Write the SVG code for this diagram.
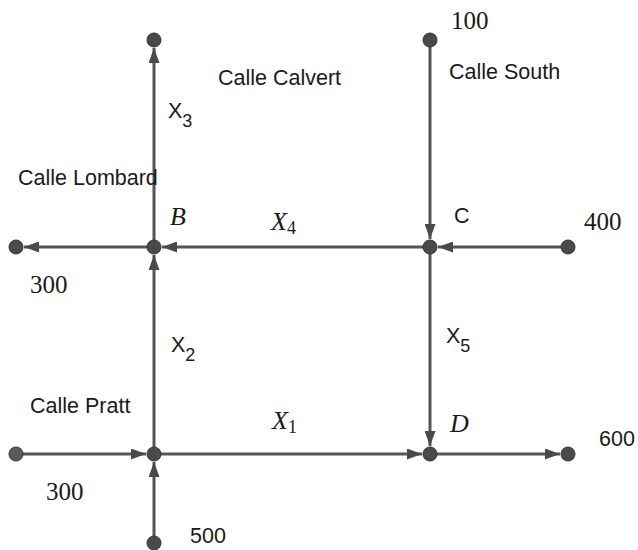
<svg xmlns="http://www.w3.org/2000/svg" width="638" height="550" viewBox="0 0 638 550">
<style>
.e{stroke:#555;stroke-width:3;fill:none}
.n{fill:#4a4a4a;stroke:#333;stroke-width:1}
.s{font-family:"Liberation Sans",Arial,sans-serif;font-size:21.5px;fill:#1a1a1a}
.m{font-family:"Liberation Serif","Times New Roman",serif;font-size:25px;fill:#1a1a1a}
.i{font-family:"Liberation Serif","Times New Roman",serif;font-style:italic;font-size:26px;fill:#1a1a1a}
</style>
<defs>
<marker id="a" markerWidth="15" markerHeight="11" refX="15" refY="5.5" orient="auto" markerUnits="userSpaceOnUse">
<path d="M0,0 L15,5.5 L0,11 Z" fill="#4a4a4a"/>
</marker>
</defs>
<rect width="638" height="550" fill="#fff"/>
<g id="connectors">
<line class="e" x1="154" y1="247" x2="154" y2="48" marker-end="url(#a)"/>
<line class="e" x1="154" y1="247" x2="24" y2="247" marker-end="url(#a)"/>
<line class="e" x1="430" y1="247" x2="162" y2="247" marker-end="url(#a)"/>
<line class="e" x1="154" y1="454" x2="154" y2="255" marker-end="url(#a)"/>
<line class="e" x1="430" y1="40" x2="430" y2="239" marker-end="url(#a)"/>
<line class="e" x1="568" y1="247" x2="438" y2="247" marker-end="url(#a)"/>
<line class="e" x1="430" y1="247" x2="430" y2="446" marker-end="url(#a)"/>
<line class="e" x1="16" y1="454" x2="146" y2="454" marker-end="url(#a)"/>
<line class="e" x1="154" y1="543" x2="154" y2="462" marker-end="url(#a)"/>
<line class="e" x1="154" y1="454" x2="422" y2="454" marker-end="url(#a)"/>
<line class="e" x1="430" y1="454" x2="560" y2="454" marker-end="url(#a)"/>
</g>
<g id="n-top-left"><circle class="n" cx="154" cy="40" r="7"/></g>
<g id="n-top-right"><circle class="n" cx="430" cy="40" r="7"/><text class="m" x="451" y="29">100</text></g>
<g id="n-left-mid"><circle class="n" cx="16" cy="247" r="7"/><text class="m" x="30" y="293">300</text></g>
<g id="n-B"><circle class="n" cx="154" cy="247" r="7"/><text class="i" x="170" y="225">B</text></g>
<g id="n-C"><circle class="n" cx="430" cy="247" r="7"/><text class="s" x="454" y="223">C</text></g>
<g id="n-right-mid"><circle class="n" cx="568" cy="247" r="7"/><text class="m" x="584" y="230">400</text></g>
<g id="n-left-bot"><circle class="n" cx="16" cy="454" r="7" style="fill:#5a5a5a"/><text class="m" x="46" y="500">300</text></g>
<g id="n-A"><circle class="n" cx="154" cy="454" r="7"/></g>
<g id="n-D"><circle class="n" cx="430" cy="454" r="7"/><text class="i" x="450" y="432">D</text></g>
<g id="n-right-bot"><circle class="n" cx="568" cy="454" r="7"/><text class="s" x="599" y="446">600</text></g>
<g id="n-bottom"><circle class="n" cx="154" cy="543" r="7"/><text class="s" x="190" y="543">500</text></g>
<g id="labels">
<text class="s" x="218" y="85">Calle Calvert</text>
<text class="s" x="449" y="79">Calle South</text>
<text class="s" x="18" y="185">Calle Lombard</text>
<text class="s" x="30" y="413">Calle Pratt</text>
<text class="s" x="168" y="118">X<tspan dy="9" font-size="18">3</tspan></text>
<text class="s" x="171" y="352">X<tspan dy="9" font-size="18">2</tspan></text>
<text class="s" x="446" y="343">X<tspan dy="9" font-size="18">5</tspan></text>
<text class="i" x="271" y="230">X<tspan dy="4" font-size="18" font-style="normal">4</tspan></text>
<text class="i" x="272" y="429">X<tspan dy="4" font-size="18" font-style="normal">1</tspan></text>
</g>
</svg>
